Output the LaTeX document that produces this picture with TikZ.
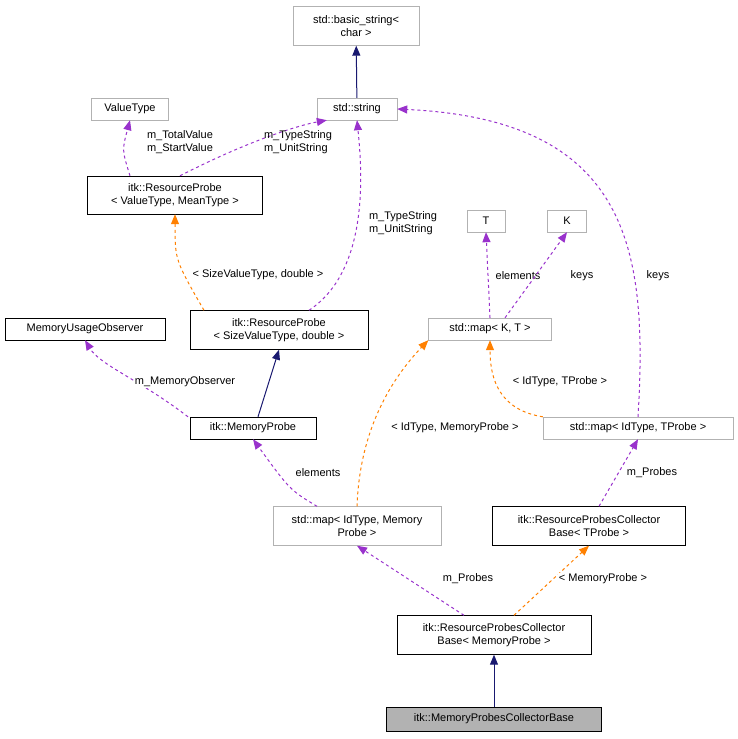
\documentclass[tikz,border=0pt]{standalone}
\usepackage{fontspec}
\setmainfont{Liberation Sans}
\usetikzlibrary{arrows.meta}
\begin{document}
\begin{tikzpicture}[x=1pt,y=-1pt,
  every node/.style={font=\fontsize{11}{12.5}\selectfont},
  gbox/.style={draw=black!30,fill=white,align=center,inner sep=2pt,minimum height=22pt},
  bbox/.style={draw=black,fill=white,align=center,inner sep=2pt,minimum height=22pt},
  inh/.style={draw={rgb,255:red,25;green,25;blue,112},line width=1pt,-{Triangle[length=10pt,width=8pt]}},
  usem/.style={draw={rgb,255:red,153;green,50;blue,204},dashed,line width=1pt,-{Triangle[length=10pt,width=8pt]}},
  tmpl/.style={draw=orange,dashed,line width=1pt,-{Triangle[length=10pt,width=8pt]}},
  lab/.style={align=left,inner sep=1pt}]
\useasboundingbox (0,0) rectangle (737,739);
\node[gbox,minimum width=126pt,minimum height=39pt] (bs) at (356,26) {std::basic\_string<\\char >};
\node[gbox,minimum width=80pt] (str) at (357,109) {std::string};
\node[gbox,minimum width=77pt] (vt) at (130,109) {ValueType};
\node[bbox,minimum width=175pt,minimum height=38pt] (rpv) at (175,195) {itk::ResourceProbe\\< ValueType, MeanType >};
\node[gbox,minimum width=38pt] (T) at (486,221) {T};
\node[gbox,minimum width=39pt] (K) at (567,221) {K};
\node[bbox,minimum width=160pt] (muo) at (85,329) {MemoryUsageObserver};
\node[bbox,minimum width=178pt,minimum height=39pt] (rps) at (279,330) {itk::ResourceProbe\\< SizeValueType, double >};
\node[gbox,minimum width=123pt] (mkt) at (490,329) {std::map< K, T >};
\node[bbox,minimum width=126pt] (mp) at (253,428) {itk::MemoryProbe};
\node[gbox,minimum width=190pt] (mit) at (638,428) {std::map< IdType, TProbe >};
\node[gbox,minimum width=168pt,minimum height=39pt] (mim) at (357,526) {std::map< IdType, Memory\\Probe >};
\node[bbox,minimum width=193pt,minimum height=39pt] (rct) at (589,526) {itk::ResourceProbesCollector\\Base< TProbe >};
\node[bbox,minimum width=194pt,minimum height=39pt] (rcm) at (494,635) {itk::ResourceProbesCollector\\Base< MemoryProbe >};
\node[draw=black,fill=black!30,minimum width=215pt,minimum height=24pt,inner sep=2pt] (mpc) at (494,719) {itk::MemoryProbesCollectorBase};

\draw[inh] (str) -- (bs);
\draw[usem] (rpv.north) ++(-45,0) coordinate (a1) .. controls (122,150) .. (vt.south);
\node[lab] at (180,142) {m\_TotalValue\\m\_StartValue};
\draw[usem] (rpv.north) ++(5,0) coordinate (a2) .. controls (250,140) and (300,125) .. ([xshift=10pt]str.south west);
\node[lab] at (298,142) {m\_TypeString\\m\_UnitString};
\draw[tmpl] (rps.north) ++(-75,0) coordinate (a3) .. controls (175,260) .. (rpv.south);
\node[lab,fill=white] at (258,275) {< SizeValueType, double >};
\draw[usem] (rps.north) ++(30,0) coordinate (a4) .. controls (370,270) and (362,170) .. (str.south);
\node[lab] at (403,223) {m\_TypeString\\m\_UnitString};
\draw[usem] (mp.north) ++(-65,0) coordinate (a5) .. controls (140,380) and (100,365) .. (muo.south);
\node[lab,fill=white] at (185,382) {m\_MemoryObserver};
\draw[inh] (mp.north) ++(5,0) coordinate (a6) -- (rps.south);
\draw[usem] (mkt.north) -- (T.south);
\node[lab] at (518,276) {elements};
\draw[usem] (mkt.north) ++(15,0) coordinate (a7) -- (K.south);
\node[lab] at (582,276) {keys};
\draw[tmpl] (mim.north) .. controls (360,420) and (400,370) .. (mkt.south west);
\node[lab,fill=white] at (455,428) {< IdType, MemoryProbe >};
\draw[tmpl] (mit.north west) .. controls (500,410) and (490,380) .. (mkt.south);
\node[lab,fill=white] at (560,382) {< IdType, TProbe >};
\draw[usem] (mit.north) .. controls (648,250) and (630,120) .. (str.east);
\node[lab,fill=white] at (658,276) {keys};
\draw[usem] (mim.north) ++(-40,0) coordinate (a9) .. controls (290,490) .. (mp.south);
\node[lab] at (318,473) {elements};
\draw[usem] (rct.north) ++(10,0) coordinate (b1) -- (mit.south);
\node[lab] at (652,473) {m\_Probes};
\draw[usem] (rcm.north) ++(-30,0) coordinate (b2) -- (mim.south);
\node[lab,fill=white] at (468,579) {m\_Probes};
\draw[tmpl] (rcm.north) ++(20,0) coordinate (b3) -- (rct.south);
\node[lab,fill=white] at (603,579) {< MemoryProbe >};
\draw[inh] (mpc) -- (rcm);
\end{tikzpicture}
\end{document}
